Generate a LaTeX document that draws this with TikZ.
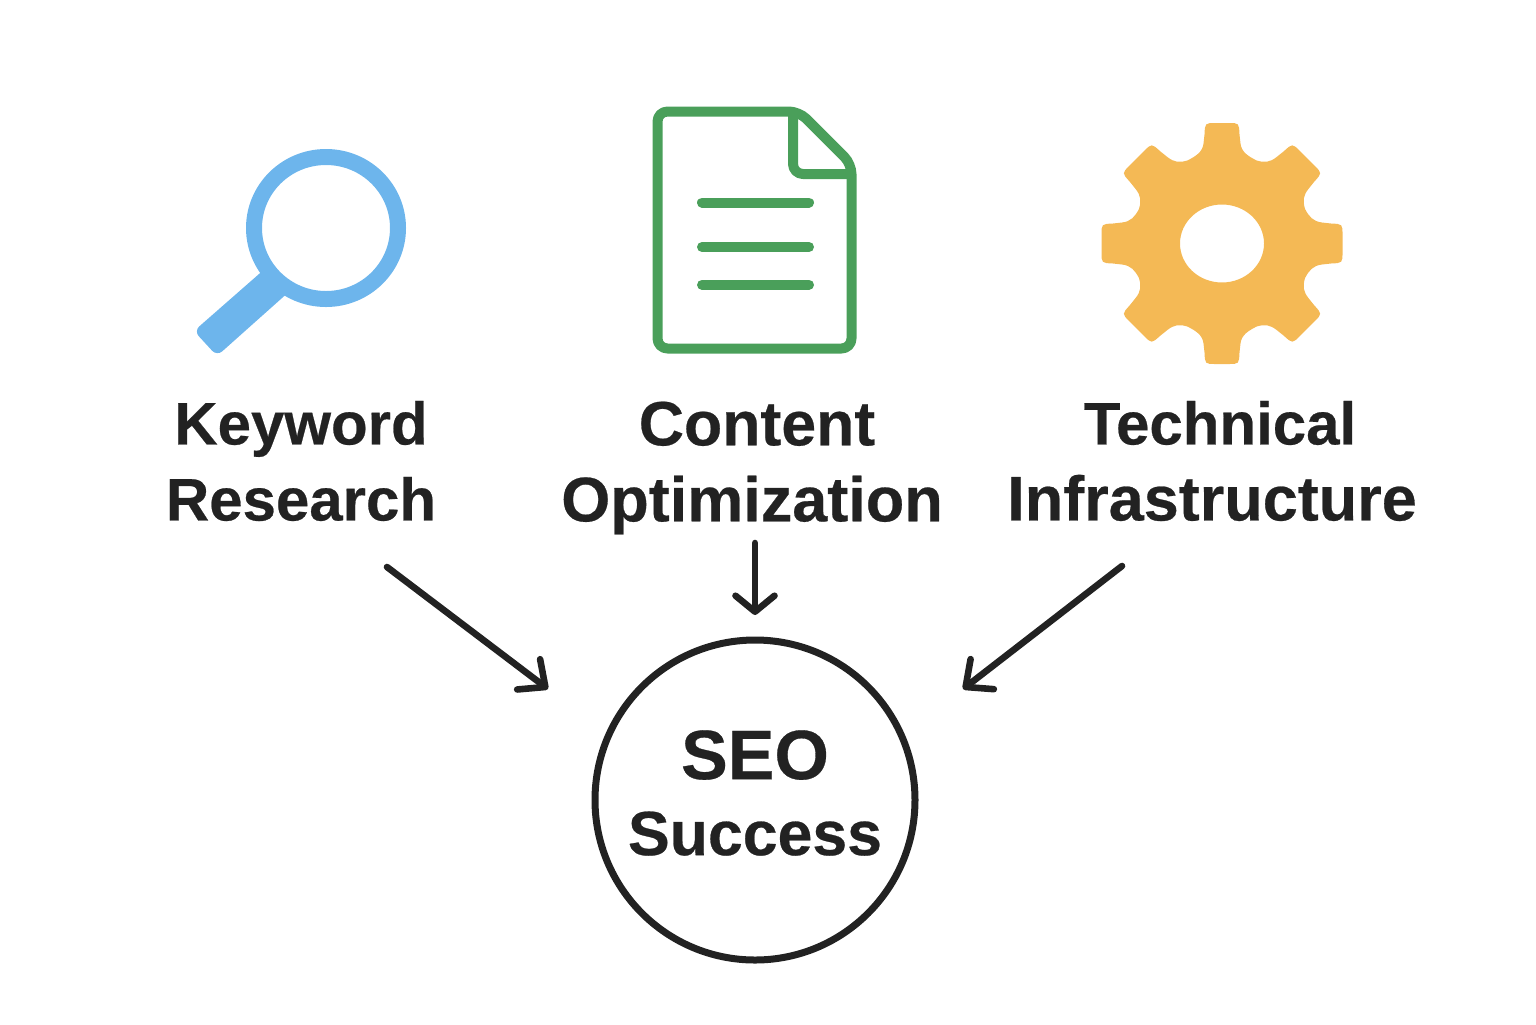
\documentclass[tikz,border=0pt]{standalone}
\usepackage{fontspec}
\setmainfont{Liberation Sans}[BoldFeatures={FakeBold=0.4}]
\usetikzlibrary{arrows.meta}
\definecolor{ink}{HTML}{222222}
\definecolor{gearc}{HTML}{F4B955}
\definecolor{docc}{HTML}{4A9F5A}
\definecolor{lensc}{HTML}{6DB5EC}
\tikzset{
  x=0.5pt,y=-0.5pt,
  label/.style={align=center,inner sep=0pt,text=ink,font=\fontsize{30}{38}\selectfont\bfseries},
  bighead/.style={-{Straight Barb[length=10.5pt,width=19pt,line cap=round,round]}},
  smallhead/.style={-{Straight Barb[length=8pt,width=19.5pt,line cap=round,round]}},
  arrowline/.style={draw=ink,line width=3.3pt,line cap=round,line join=round},
  docline/.style={draw=docc,line width=5pt,line cap=round,line join=round},
}
\begin{document}
\begin{tikzpicture}
\useasboundingbox (0,0) rectangle (1536,1024);
% magnifier
\draw[draw=lensc,line width=8pt] (326,228) ellipse [x radius=72,y radius=71];
\fill[lensc,rounded corners=3.5pt] (267,267) -- (291,290) -- (217,356) -- (194,331) -- cycle;
% document
\draw[docline,rounded corners=5pt] (657.5,111.5) -- (799,111.5) -- (851.5,164) -- (851.5,348.5) -- (657.5,348.5) -- cycle;
\draw[docline,rounded corners=5pt] (793,113) -- (793,174) -- (851,174);
\draw[docline] (702,202.5) -- (809,202.5);
\draw[docline] (702,247) -- (809,247);
\draw[docline] (702,284.7) -- (809,284.7);
% gear
\begin{scope}[shift={(1222,243.5)},x=0.5pt,y=0.5pt]
\fill[gearc,even odd rule]
 ([rotate=0]83.1,-34.4)
 \foreach \a/\w in {0/20,45/21.5,90/17.5,135/21.5,180/20,225/21.5,270/17.5,315/21.5}{
  .. controls ([rotate=\a]87,-27) and ([rotate=\a]91,-\w-2) .. ([rotate=\a]100,-\w-1)
  -- ([rotate=\a]109,-\w)
  .. controls ([rotate=\a]120.5,-\w+0.5) and ([rotate=\a]120.5,-\w+0.5) .. ([rotate=\a]120.5,-\w+11)
  -- ([rotate=\a]120.5,\w-11)
  .. controls ([rotate=\a]120.5,\w-0.5) and ([rotate=\a]120.5,\w-0.5) .. ([rotate=\a]109,\w)
  -- ([rotate=\a]100,\w+1)
  .. controls ([rotate=\a]91,\w+2) and ([rotate=\a]87,27) .. ([rotate=\a]83.1,34.4)
 } -- cycle
 (0,0) ellipse [x radius=42,y radius=39];
\end{scope}
% labels
\node[label] (kw) at (301,461) {Keyword\\Research};
\node[label] (co) at (752,468) {\hspace*{5pt}{\fontsize{31.3}{38}\selectfont Content}\\{\fontsize{31.5}{38}\selectfont Optimization}};
\node[label] (te) at (1212,461) {\hspace*{8pt}Technical\\{\fontsize{31.5}{38}\selectfont Infrastructure}};
% circle
\node[circle,draw=ink,line width=3.5pt,minimum size=160pt,inner sep=0pt] (seo) at (755,800) {};
\node[label] (seotext) at (755,793) {{\fontsize{35}{38}\selectfont SEO}\\{\fontsize{31.3}{38}\selectfont Success}};
% arrows
\draw[arrowline,bighead] ([shift={(86,106)}]kw.center) -- ([shift={(-207,-111)}]seo.center);
\draw[arrowline,smallhead] ([shift={(3,75)}]co.center) -- ([shift={(0,-185)}]seo.center);
\draw[arrowline,bighead] ([shift={(-90,105)}]te.center) -- ([shift={(208,-111)}]seo.center);
\end{tikzpicture}
\end{document}
